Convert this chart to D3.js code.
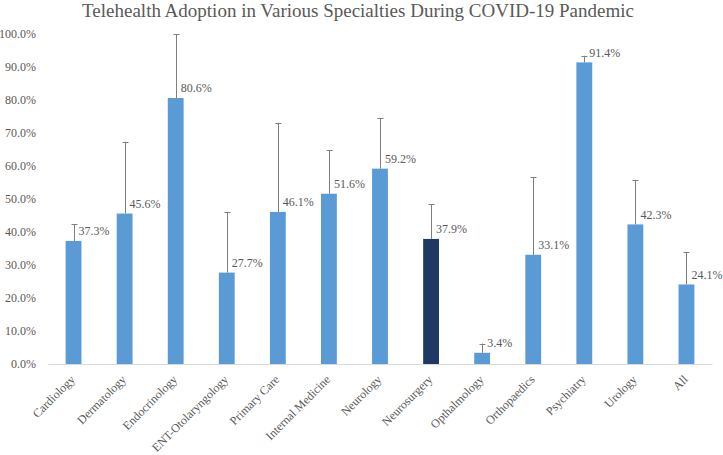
<!DOCTYPE html>
<html><head><meta charset="utf-8">
<script src="https://cdn.jsdelivr.net/npm/d3@7"></script>
<style>body{margin:0;background:#fff}svg{display:block}svg text{font-family:"Liberation Serif",serif !important}</style>
</head><body><svg id="c" width="723" height="455"></svg>
<script>
const categories = ["Cardiology","Dermatology","Endocrinology","ENT-Otolaryngology","Primary Care","Internal Medicine","Neurology","Neurosurgery","Opthalmology","Orthopaedics","Psychiatry","Urology","All"];
const values = [37.3,45.6,80.6,27.7,46.1,51.6,59.2,37.9,3.4,33.1,91.4,42.3,24.1];
const errorTops = [42.3,67.4,100,46.0,73.1,64.9,74.4,48.4,6.2,56.7,93.4,55.8,33.8];
const highlighted = ["Neurosurgery"];
const yTicks = [0,10,20,30,40,50,60,70,80,90,100];
const title = "Telehealth Adoption in Various Specialties During COVID-19 Pandemic";

const svg = d3.select("#c");
const m = {l:48, r:11, t:34, b:91};
const W = 723, H = 455;
const x = d3.scaleBand().domain(categories).range([m.l, W-m.r]).paddingInner(0.69).paddingOuter(0.345);
const y = d3.scaleLinear().domain([0,100]).range([H-m.b, m.t]);
const txt = "#595959";

svg.append("text").attr("x",358).attr("y",16.5).attr("text-anchor","middle")
  .attr("font-size",19).attr("fill",txt).text(title);

const ya = d3.axisLeft(y).tickValues(yTicks).tickFormat(d=>d.toFixed(1)+"%").tickSize(0).tickPadding(12);
const gy = svg.append("g").attr("transform",`translate(${m.l},0)`).call(ya);
gy.attr("font-family",null);
gy.select(".domain").remove();
gy.selectAll("text").attr("font-size",12).attr("fill",txt);

svg.selectAll("rect.bar").data(categories).join("rect").attr("class","bar")
  .attr("x",d=>x(d)).attr("width",x.bandwidth())
  .attr("y",(d,i)=>y(values[i])).attr("height",(d,i)=>y(0)-y(values[i]))
  .attr("fill",d=>highlighted.includes(d)?"#203864":"#5B9BD5");

const xa = d3.axisBottom(x).tickSize(0).tickPadding(6);
const gx = svg.append("g").attr("transform",`translate(0,${y(0)})`).call(xa);
gx.attr("font-family",null);
gx.select(".domain").attr("stroke","#D9D9D9").attr("stroke-width",1);
gx.selectAll("text").attr("font-size",12).attr("fill",txt)
  .attr("text-anchor","end").attr("dy","0.35em")
  .attr("transform","translate(-5,9) rotate(-45)");

const eb = svg.append("g").attr("stroke","#7F7F7F").attr("stroke-width",1);
categories.forEach((c,i)=>{
  const cx = Math.round(x(c)+x.bandwidth()/2)+0.5;
  eb.append("line").attr("x1",cx).attr("x2",cx).attr("y1",y(values[i])).attr("y2",y(errorTops[i]));
  eb.append("line").attr("x1",cx-3).attr("x2",cx+3).attr("y1",Math.round(y(errorTops[i]))+0.5).attr("y2",Math.round(y(errorTops[i]))+0.5);
});

svg.selectAll("text.lbl").data(categories).join("text").attr("class","lbl")
  .attr("x",d=>x(d)+x.bandwidth()/2+5).attr("y",(d,i)=>y(values[i])-10)
  .attr("dy","0.35em").attr("font-size",12).attr("fill",txt)
  .text((d,i)=>values[i].toFixed(1)+"%");
</script></body></html>
